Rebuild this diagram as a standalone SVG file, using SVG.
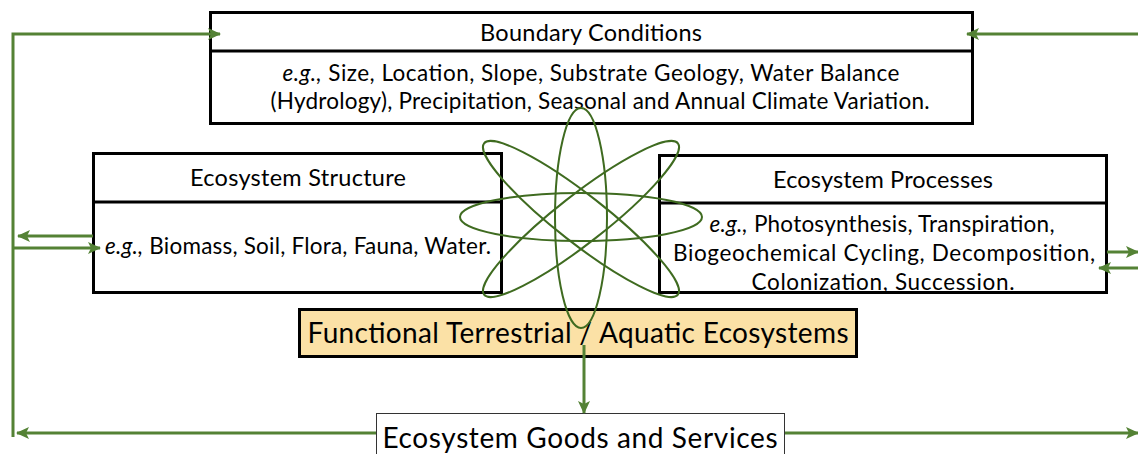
<svg xmlns="http://www.w3.org/2000/svg" width="1138" height="454" viewBox="0 0 1138 454">
<style>
.box{fill:#ffffff;stroke:#000;stroke-width:3}
.div{stroke:#000;stroke-width:3}
.t{font-family:Lato,"Liberation Sans",sans-serif;fill:#000;text-anchor:middle}
.h{font-size:23.5px}
.b{font-size:22.5px}
.big{font-size:28px}
.con{fill:none;stroke:#548235;stroke-width:3}
.atom{fill:none;stroke:#3f6b20;stroke-width:2}
</style>
<defs>
<marker id="ah" markerUnits="userSpaceOnUse" markerWidth="14" markerHeight="14" viewBox="0 0 14 14" refX="12" refY="7" orient="auto">
<path d="M0,1 L13,7 L0,13 L3,7 Z" fill="#548235"/>
</marker>
</defs>
<rect width="1138" height="454" fill="#fff"/>

<g id="boundary">
<rect class="box" x="210.5" y="12.5" width="762" height="111"/>
<line class="div" x1="210" y1="51" x2="973" y2="51"/>
<text class="t h" x="591" y="41" textLength="222">Boundary Conditions</text>
<text class="t b" x="591" y="81" textLength="617"><tspan font-style="italic">e.g.,</tspan> Size, Location, Slope, Substrate Geology, Water Balance</text>
<text class="t b" x="600" y="109" textLength="659">(Hydrology), Precipitation, Seasonal and Annual Climate Variation.</text>
</g>

<g id="structure">
<rect class="box" x="93.5" y="153.5" width="408" height="139"/>
<line class="div" x1="93" y1="202" x2="502" y2="202"/>
<text class="t h" x="298" y="186" textLength="216">Ecosystem Structure</text>
<text class="t b" x="298" y="254" textLength="386"><tspan font-style="italic">e.g.,</tspan> Biomass, Soil, Flora, Fauna, Water.</text>
</g>

<g id="processes">
<rect class="box" x="659.5" y="155.5" width="447" height="137"/>
<line class="div" x1="659" y1="203" x2="1107" y2="203"/>
<text class="t h" x="883" y="188" textLength="220">Ecosystem Processes</text>
<text class="t b" x="882" y="232" textLength="345"><tspan font-style="italic">e.g.,</tspan> Photosynthesis, Transpiration,</text>
<text class="t b" x="884" y="261" textLength="422">Biogeochemical Cycling, Decomposition,</text>
<text class="t b" x="883" y="290" textLength="263">Colonization, Succession.</text>
</g>

<g id="functional">
<rect x="299.5" y="309.5" width="557" height="47" fill="#fbe1a6" stroke="#000" stroke-width="3"/>
<text class="t big" x="578" y="343" textLength="541">Functional Terrestrial / Aquatic Ecosystems</text>
</g>

<g id="goods">
<rect x="376.5" y="413.5" width="408" height="50" fill="#fff" stroke="#333" stroke-width="1"/>
<text class="t big" x="580" y="448" textLength="395">Ecosystem Goods and Services</text>
</g>

<g id="connectors">
<polyline class="con" points="13,437 13,34 220,34" marker-end="url(#ah)"/>
<line class="con" x1="1138" y1="34" x2="967" y2="34" marker-end="url(#ah)"/>
<line class="con" x1="93" y1="236" x2="18" y2="236" marker-end="url(#ah)"/>
<line class="con" x1="13" y1="248" x2="100" y2="248" marker-end="url(#ah)"/>
<line class="con" x1="1107" y1="252" x2="1138" y2="252" marker-end="url(#ah)"/>
<line class="con" x1="1138" y1="268" x2="1099" y2="268" marker-end="url(#ah)"/>
<line class="con" x1="376" y1="433" x2="17" y2="433" marker-end="url(#ah)"/>
<line class="con" x1="785" y1="433" x2="1138" y2="433" marker-end="url(#ah)"/>
<line class="con" x1="584" y1="345" x2="584" y2="413" marker-end="url(#ah)"/>
</g>

<g id="atom">
<ellipse class="atom" cx="581" cy="218" rx="26" ry="110"/>
<ellipse class="atom" cx="581" cy="217" rx="121" ry="24"/>
<ellipse class="atom" cx="581" cy="219" rx="123" ry="24" transform="rotate(38 581 219)"/>
<ellipse class="atom" cx="581" cy="219" rx="123" ry="24" transform="rotate(-38 581 219)"/>
</g>
</svg>
